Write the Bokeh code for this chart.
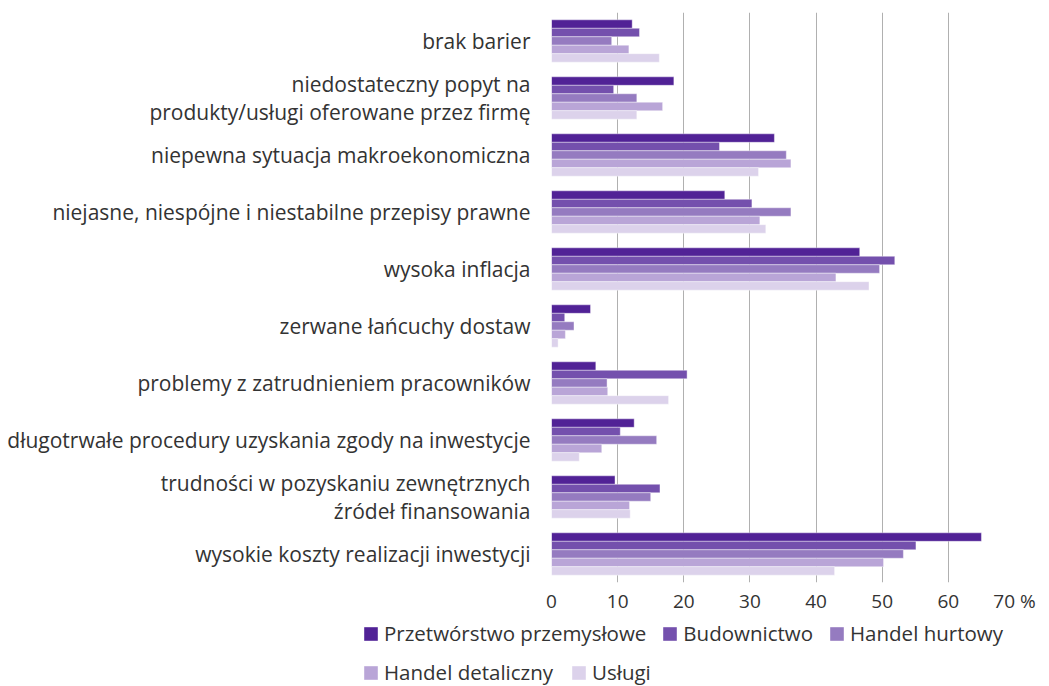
from bokeh.plotting import figure
from bokeh.models import (ColumnDataSource, Range1d, FactorRange, Legend, LegendItem,
                          FixedTicker)
from bokeh.transform import dodge
from bokeh.embed import file_html
from bokeh.resources import INLINE

categories = [
    "brak barier",
    "niedostateczny popyt na\nprodukty/usługi oferowane przez firmę",
    "niepewna sytuacja makroekonomiczna",
    "niejasne, niespójne i niestabilne przepisy prawne",
    "wysoka inflacja",
    "zerwane łańcuchy dostaw",
    "problemy z zatrudnieniem pracowników",
    "długotrwałe procedury uzyskania zgody na inwestycje",
    "trudności w pozyskaniu zewnętrznych\nźródeł finansowania",
    "wysokie koszty realizacji inwestycji",
]
series_names = ["Przetwórstwo przemysłowe", "Budownictwo", "Handel hurtowy",
                "Handel detaliczny", "Usługi"]
przetworstwo = [12.2, 18.5, 33.7, 26.2, 46.6, 5.9, 6.7, 12.5, 9.6, 65.0]
budownictwo = [13.3, 9.4, 25.4, 30.3, 51.9, 2.0, 20.5, 10.4, 16.4, 55.1]
handel_hurtowy = [9.1, 12.9, 35.5, 36.2, 49.6, 3.4, 8.4, 15.9, 15.0, 53.2]
handel_detaliczny = [11.7, 16.8, 36.2, 31.5, 43.0, 2.1, 8.5, 7.6, 11.8, 50.2]
uslugi = [16.3, 12.9, 31.3, 32.4, 48.0, 1.0, 17.7, 4.2, 11.9, 42.8]
x_ticks = [0, 10, 20, 30, 40, 50, 60, 70]
x_tick_labels = {70: "70 %"}

colors = ["#512296", "#7450AD", "#957BC0", "#B9A5D7", "#DCD2EB"]
FONT = "Open Sans"
TXT = "#333333"

src = ColumnDataSource(dict(cat=categories, s0=przetworstwo, s1=budownictwo,
                            s2=handel_hurtowy, s3=handel_detaliczny, s4=uslugi))

p = figure(width=1049, height=616, output_backend="svg", toolbar_location=None,
           y_range=FactorRange(factors=list(reversed(categories)), range_padding=0),
           x_range=Range1d(0, 70),
           min_border_left=551, min_border_right=35, min_border_top=12,
           min_border_bottom=33)
p.outline_line_color = None

bar_h = 0.1485
renderers = []
for i in range(5):
    off = (2 - i) * bar_h
    r = p.hbar(y=dodge("cat", off, range=p.y_range), left=0, right="s%d" % i,
               height=bar_h, source=src, fill_color=colors[i],
               line_color="white", line_width=0.8, line_alpha=0.5)
    renderers.append(r)

p.ygrid.grid_line_color = None
p.xgrid.ticker = FixedTicker(ticks=x_ticks)
p.xgrid.grid_line_color = "#b0b0b0"
p.xgrid.grid_line_width = 1

xa = p.xaxis[0]
xa.ticker = FixedTicker(ticks=x_ticks)
xa.major_label_overrides = x_tick_labels
xa.axis_line_color = None
xa.major_tick_line_color = None
xa.minor_tick_line_color = None
xa.major_tick_out = 0
xa.major_tick_in = 0
xa.major_label_standoff = 5
xa.major_label_text_font = FONT
xa.major_label_text_font_size = "19px"
xa.major_label_text_color = TXT

ya = p.yaxis[0]
ya.axis_line_color = None
ya.major_tick_line_color = None
ya.minor_tick_line_color = None
ya.major_tick_out = 0
ya.major_tick_in = 0
ya.major_label_standoff = 21
ya.major_label_text_font = FONT
ya.major_label_text_font_size = "21px"
ya.major_label_text_color = TXT
ya.major_label_text_align = "right"
ya.major_label_text_line_height = 1.0

# legend panel below the chart (separate root, so its frame spans the full width)
lf = figure(width=1049, height=70, output_backend="svg", toolbar_location=None,
            x_range=Range1d(0, 1049), y_range=Range1d(0, 70),
            min_border=0, min_border_left=0, min_border_right=0,
            min_border_top=0, min_border_bottom=0)
lf.axis.visible = False
lf.grid.visible = False
lf.outline_line_color = None

# off-screen proxy glyphs that only supply the legend swatches
dummies = []
for i in range(5):
    d = lf.hbar(y=[-100], right=[1], left=0, height=1, fill_color=colors[i],
                line_color=None)
    dummies.append(d)

def make_legend(items, loc, spacing):
    return Legend(items=items, location=loc, orientation="horizontal",
                  glyph_width=17, glyph_height=17, label_standoff=5,
                  spacing=spacing, padding=0, margin=0, border_line_color=None,
                  background_fill_alpha=0, label_height=20,
                  label_text_font=FONT, label_text_font_size="20.5px",
                  label_text_color=TXT)

items = [LegendItem(label=series_names[i], renderers=[dummies[i]]) for i in range(5)]
lf.add_layout(make_legend(items[:3], (362, 39), 15))
lf.add_layout(make_legend(items[3:], (362, 0), 17))

open("out.html", "w").write(file_html([p, lf], INLINE))
